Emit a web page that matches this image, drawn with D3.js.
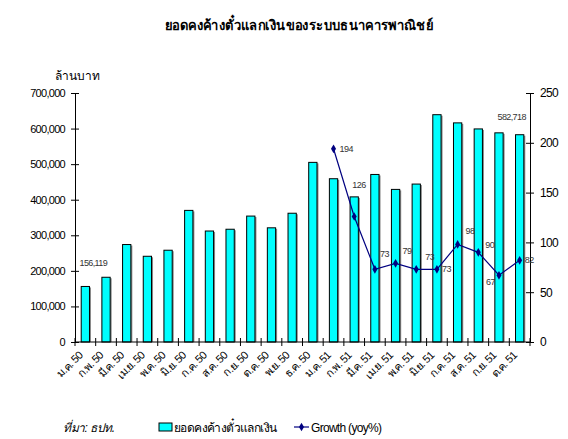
<!DOCTYPE html>
<html>
<head>
<meta charset="utf-8">
<script src="https://cdn.jsdelivr.net/npm/d3@7"></script>
<style>
  body { margin: 0; background: #fff; }
  text { font-family: "Liberation Sans", Arial, sans-serif; }
</style>
</head>
<body>
<div id="chart"></div>
<script>
// chart data
let months = ["ม.ค. 50", "ก.พ. 50", "มี.ค. 50", "เม.ย. 50", "พ.ค. 50", "มิ.ย. 50", "ก.ค. 50", "ส.ค. 50",
    "ก.ย. 50", "ต.ค. 50", "พ.ย. 50", "ธ.ค. 50", "ม.ค. 51", "ก.พ. 51", "มี.ค. 51", "เม.ย. 51",
    "พ.ค. 51", "มิ.ย. 51", "ก.ค. 51", "ส.ค. 51", "ก.ย. 51", "ต.ค. 51"];
let outstanding = [156119, 182000, 274000, 241000, 258000, 370000, 312000, 317000, 354000, 321000, 362000, 505000,
    459000, 408000, 471000, 429000, 444000, 639000, 616000, 599000, 588000, 582718];
// growth starts from ม.ค. 51
let growthMonths = ["ม.ค. 51", "ก.พ. 51", "มี.ค. 51", "เม.ย. 51", "พ.ค. 51", "มิ.ย. 51", "ก.ค. 51", "ส.ค. 51", "ก.ย. 51", "ต.ค. 51"];
let growth = [194, 126, 73, 79, 73, 73, 98, 90, 67, 82];
let leftTicks = [0, 100000, 200000, 300000, 400000, 500000, 600000, 700000];
let rightTicks = [0, 50, 100, 150, 200, 250];

let width = 568, height = 439;
let margin = {top: 93, right: 38, bottom: 97, left: 75};
let plotW = width - margin.left - margin.right;
let plotH = height - margin.top - margin.bottom;

let svg = d3.select("#chart")
    .append("svg")
    .attr("width", width)
    .attr("height", height);

let g = svg.append("g")
    .attr("transform", `translate(${margin.left}, ${margin.top})`);

let x = d3.scaleBand()
    .domain(months)
    .range([0, plotW])
    .paddingInner(0.6)
    .paddingOuter(0.3);

let yL = d3.scaleLinear().domain([0, 700000]).range([plotH, 0]);
let yR = d3.scaleLinear().domain([0, 250]).range([plotH, 0]);

// title
svg.append("text")
    .attr("x", 165)
    .attr("y", 30)
    .attr("textLength", 268)
    .attr("lengthAdjust", "spacingAndGlyphs")
    .style("font-size", "14px")
    .style("font-weight", "bold")
    .text("ยอดคงค้างตั๋วแลกเงินของระบบธนาคารพาณิชย์");

svg.append("text")
    .attr("x", 55)
    .attr("y", 80)
    .attr("textLength", 45)
    .attr("lengthAdjust", "spacingAndGlyphs")
    .style("font-size", "12px")
    .text("ล้านบาท");

// bars
let bw = x.bandwidth();
g.selectAll("rect.shadow")
    .data(outstanding)
    .enter()
    .append("rect")
    .attr("class", "shadow")
    .attr("x", (d, i) => x(months[i]) + bw)
    .attr("y", d => yL(d) + 1)
    .attr("width", 1.5)
    .attr("height", d => plotH - yL(d) - 1)
    .attr("fill", "#888");

g.selectAll("rect.bar")
    .data(outstanding)
    .enter()
    .append("rect")
    .attr("class", "bar")
    .attr("x", (d, i) => x(months[i]))
    .attr("y", d => yL(d))
    .attr("width", bw)
    .attr("height", d => plotH - yL(d))
    .attr("fill", "#00ffff")
    .attr("stroke", "#000")
    .attr("stroke-width", 1);

// bar labels (first and last)
[[0, 8, -20], [outstanding.length - 1, -8, -15]].forEach(function(o) {
    let i = o[0];
    g.append("text")
        .attr("x", x(months[i]) + bw / 2 + o[1])
        .attr("y", yL(outstanding[i]) + o[2])
        .style("text-anchor", "middle")
        .style("font-size", "9px")
        .style("letter-spacing", "-0.6px")
        .style("fill", "#333")
        .text(d3.format(",")(outstanding[i]));
});

// axes
let leftAxis = g.append("g")
    .call(d3.axisLeft(yL).tickValues(leftTicks).tickFormat(d3.format(",")).tickSizeInner(4).tickSizeOuter(0).tickPadding(6));
leftAxis.selectAll(".tick line").attr("x2", 4).attr("x1", -4);
leftAxis.selectAll("text").style("font-size", "11px").style("letter-spacing", "-0.7px").style("font-family", "Liberation Sans");

let rightAxis = g.append("g")
    .attr("transform", `translate(${plotW}, 0)`)
    .call(d3.axisRight(yR).tickValues(rightTicks).tickSizeInner(4).tickSizeOuter(0).tickPadding(6));
rightAxis.selectAll(".tick line").attr("x1", -4).attr("x2", 4);
rightAxis.selectAll("text").style("font-size", "12px").style("letter-spacing", "-0.7px").style("font-family", "Liberation Sans");

// x axis with ticks between categories
let xAxis = g.append("g").attr("transform", `translate(0, ${plotH})`);
xAxis.append("line").attr("x1", 0).attr("x2", plotW).attr("stroke", "#000");
let step = x.step();
let x0 = x(months[0]) - x.paddingInner() * step / 2;
xAxis.selectAll("line.tk")
    .data(d3.range(months.length + 1))
    .enter()
    .append("line")
    .attr("class", "tk")
    .attr("x1", i => x0 + i * step)
    .attr("x2", i => x0 + i * step)
    .attr("y1", -4)
    .attr("y2", 4)
    .attr("stroke", "#000");
xAxis.selectAll("text")
    .data(months)
    .enter()
    .append("text")
    .attr("transform", d => `translate(${x(d) + bw / 2 - 2}, 14) rotate(-45)`)
    .style("text-anchor", "end")
    .style("font-size", "11px")
    .style("letter-spacing", "-0.6px")
    .text(d => d);

// growth line
let cx = d => x(d) + bw / 2;
let line = d3.line()
    .x((d, i) => cx(growthMonths[i]))
    .y(d => yR(d));
g.append("path")
    .datum(growth)
    .attr("d", line)
    .attr("fill", "none")
    .attr("stroke", "#000080")
    .attr("stroke-width", 1.2);

g.selectAll("path.marker")
    .data(growth)
    .enter()
    .append("path")
    .attr("class", "marker")
    .attr("d", d3.symbol().type(d3.symbolDiamond).size(22))
    .attr("transform", (d, i) => `translate(${cx(growthMonths[i])}, ${yR(d)})`)
    .attr("fill", "#000080");

// growth labels: offsets
let labelOff = [[6, 3], [-2, -29], [5, -12], [7, -9], [9, -9], [5, 3], [8, -10], [7, -4], [-13, 10], [5, 3]];
g.selectAll("text.gl")
    .data(growth)
    .enter()
    .append("text")
    .attr("class", "gl")
    .attr("x", (d, i) => cx(growthMonths[i]) + labelOff[i][0])
    .attr("y", (d, i) => yR(d) + labelOff[i][1])
    .style("font-size", "9px")
    .style("letter-spacing", "-0.5px")
    .style("fill", "#333")
    .text(d => d);

// source and legend
svg.append("text")
    .attr("x", 63)
    .attr("y", 432)
    .style("font-size", "12px")
    .style("font-style", "italic")
    .style("letter-spacing", "-0.5px")
    .text("ที่มา: ธปท.");

svg.append("rect")
    .attr("x", 159).attr("y", 423).attr("width", 13).attr("height", 8)
    .attr("fill", "#00ffff").attr("stroke", "#000");
svg.append("text")
    .attr("x", 174).attr("y", 432)
    .style("font-size", "12px").style("letter-spacing", "-0.6px")
    .text("ยอดคงค้างตั๋วแลกเงิน");

svg.append("line")
    .attr("x1", 294).attr("x2", 309).attr("y1", 427).attr("y2", 427)
    .attr("stroke", "#000080").attr("stroke-width", 1.2);
svg.append("path")
    .attr("d", d3.symbol().type(d3.symbolDiamond).size(22))
    .attr("transform", "translate(301.5, 427)")
    .attr("fill", "#000080");
svg.append("text")
    .attr("x", 311).attr("y", 432)
    .style("font-size", "12px").style("letter-spacing", "-0.7px")
    .text("Growth (yoy%)");
</script>
</body>
</html>
